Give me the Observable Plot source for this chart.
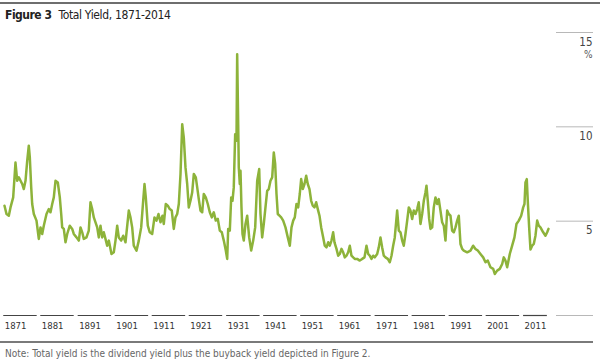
<!DOCTYPE html>
<html><head><meta charset="utf-8">
<script src="https://cdn.jsdelivr.net/npm/d3@7"></script>
<script src="https://cdn.jsdelivr.net/npm/@observablehq/plot@0.6"></script>
<style>
body{margin:0;width:600px;height:362px;position:relative;background:#fff;overflow:hidden;font-family:"Liberation Sans Narrow","DejaVu Sans Condensed","Roboto Condensed","Arial Narrow",sans-serif;font-stretch:condensed;}
#rule{position:absolute;left:0;top:2px;width:600px;height:2px;background:#6e6e6e;}
#title{position:absolute;left:5px;top:8px;font-size:12px;line-height:14px;color:#222;white-space:nowrap;letter-spacing:-0.35px;}
#title b{font-weight:bold;margin-right:4px;letter-spacing:-0.5px;}
#chart{position:absolute;left:0;top:24px;}
#sep{position:absolute;left:0;top:341px;width:593px;height:2px;background:#7a7a7a;}
#note{position:absolute;left:5px;top:348px;font-size:10px;line-height:12px;color:#666;white-space:nowrap;}
</style></head>
<body>
<div id="rule"></div>
<div id="title"><b>Figure 3</b> Total Yield, 1871-2014</div>
<div id="chart"></div>
<div id="sep"></div>
<div id="note">Note: Total yield is the dividend yield plus the buyback yield depicted in Figure 2.</div>
<script>
// Total yield (%) by year: [year, value]
const totalYield = [
[1871.00,5.82],[1871.53,5.38],[1872.14,5.29],[1872.59,5.73],[1873.30,6.26],[1873.91,8.11],[1874.36,7.14],[1874.79,7.32],[1875.69,6.97],[1876.11,6.70],[1876.56,7.14],[1877.01,8.20],[1877.43,9.00],[1877.70,8.38],[1878.07,6.79],[1878.33,5.91],[1878.76,5.38],[1879.47,5.03],[1880.08,4.06],[1880.53,4.67],[1880.98,4.32],[1881.40,4.76],[1882.12,5.38],[1882.73,5.64],[1883.18,5.47],[1883.63,5.91],[1884.05,6.26],[1884.50,7.14],[1885.11,7.05],[1885.64,6.26],[1886.01,5.38],[1886.27,4.67],[1886.70,4.59],[1887.15,3.88],[1887.60,4.32],[1888.28,4.76],[1888.92,4.59],[1889.34,4.32],[1890.06,4.14],[1890.67,3.97],[1891.12,4.67],[1891.57,4.41],[1891.99,4.06],[1892.70,4.14],[1893.31,4.50],[1893.76,6.00],[1894.21,5.64],[1894.64,5.20],[1895.09,4.94],[1895.54,4.67],[1895.96,4.14],[1896.41,4.76],[1896.86,4.14],[1897.28,4.41],[1897.73,4.06],[1898.18,3.70],[1898.61,3.97],[1899.32,3.26],[1899.93,3.35],[1900.38,3.97],[1900.83,4.76],[1901.25,4.14],[1901.89,3.97],[1902.42,4.23],[1903.03,3.88],[1903.90,5.56],
[1904.35,5.20],[1904.80,4.67],[1905.22,3.70],[1905.94,3.44],[1906.55,3.97],[1907.18,4.67],[1907.71,6.08],[1908.06,6.97],[1908.40,6.26],[1908.93,4.76],[1909.46,4.41],[1910.09,4.32],[1910.70,5.20],[1911.23,5.03],[1911.76,5.38],[1912.29,4.94],[1912.82,5.29],[1913.17,4.85],[1913.69,5.91],[1914.22,5.82],[1914.75,5.64],[1915.28,5.56],[1915.81,4.59],[1916.26,5.20],[1916.71,5.38],[1917.14,5.91],[1917.59,7.50],[1918.04,10.14],[1918.46,9.43],[1918.91,7.85],[1919.36,6.97],[1919.78,5.73],[1920.23,6.08],[1920.68,6.52],[1921.11,7.50],[1921.64,7.32],[1922.01,6.79],[1922.43,6.17],[1922.88,5.56],[1923.33,5.47],[1923.75,6.44],[1924.28,6.26],[1924.81,5.91],[1925.34,5.47],[1925.87,5.20],[1926.40,5.47],[1926.93,5.03],[1927.46,5.12],[1927.99,4.50],[1928.52,4.41],[1929.05,3.97],[1929.58,3.44],[1929.95,3.00],[1930.21,4.59],[1930.64,4.50],[1931.01,6.26],[1931.35,6.08],[1931.69,6.79],[1932.06,9.61],[1932.41,9.26],[1932.59,13.85],[1932.86,10.14],[1933.02,7.85],[1933.28,6.97],[1933.47,7.67],[1933.73,5.73],[1934.00,4.32],[1934.34,3.97],[1934.79,4.85],[1935.24,5.29],[1935.77,4.14],[1936.30,3.44],[1936.83,3.97],[1937.36,4.67],[1937.89,7.14],[1938.42,7.76],
[1938.76,5.38],[1939.21,4.14],[1939.63,4.85],[1940.08,5.73],[1940.53,6.61],[1940.96,6.70],[1941.41,7.14],[1941.86,7.32],[1942.28,8.64],[1942.65,8.03],[1943.00,6.44],[1943.34,5.38],[1943.79,5.29],[1944.24,5.20],[1944.77,5.03],[1945.38,4.67],[1945.99,4.14],[1946.52,3.70],[1946.97,4.67],[1947.42,5.03],[1947.84,5.20],[1948.29,5.91],[1948.74,5.73],[1949.16,6.44],[1949.53,7.23],[1949.96,6.70],[1950.41,6.97],[1950.86,7.41],[1951.28,6.97],[1951.73,6.70],[1952.18,6.08],[1952.60,5.82],[1953.05,5.73],[1953.50,6.00],[1953.93,5.64],[1954.38,5.29],[1954.83,4.67],[1955.36,4.14],[1955.78,3.70],[1956.23,3.61],[1956.68,3.88],[1957.10,3.70],[1957.55,3.97],[1958.00,4.41],[1958.35,3.88],[1958.88,3.53],[1959.33,3.17],[1959.75,3.26],[1960.20,3.53],[1960.65,3.35],[1961.07,3.08],[1961.52,3.17],[1961.97,3.35],[1962.40,3.70],[1962.85,3.17],[1963.30,3.08],[1963.72,3.00],[1964.36,3.00],[1965.04,2.91],[1965.68,3.00],[1966.29,3.08],[1966.82,3.70],[1967.27,3.26],[1967.69,3.17],[1968.14,3.00],[1968.59,3.17],[1969.02,3.08],[1969.65,3.26],[1970.07,3.61],[1970.52,4.14],[1970.97,3.61],[1971.40,3.17],[1971.85,3.08],[1972.46,3.00],[1972.99,2.82],[1973.44,3.17],[1973.88,3.70],[1974.31,4.14],[1974.94,5.56],[1975.37,4.50],
[1975.82,4.41],[1976.27,3.97],[1976.69,3.70],[1977.14,4.32],[1977.59,5.03],[1978.02,5.73],[1978.46,5.56],[1978.91,5.12],[1979.34,5.56],[1979.79,5.38],[1980.24,5.64],[1980.66,6.00],[1981.11,4.85],[1981.56,5.38],[1981.99,6.08],[1982.43,6.52],[1982.70,6.88],[1983.05,6.08],[1983.41,5.12],[1983.76,4.59],[1984.21,4.67],[1984.63,5.73],[1985.08,6.26],[1985.53,5.91],[1985.95,6.17],[1986.40,5.56],[1986.85,4.94],[1987.28,4.76],[1987.73,3.97],[1988.18,5.56],[1988.60,5.38],[1989.05,5.29],[1989.50,4.50],[1989.93,4.41],[1990.38,4.67],[1990.82,5.03],[1991.25,5.29],[1991.70,3.79],[1992.15,3.53],[1992.57,3.44],[1993.47,3.35],[1994.35,3.44],[1995.06,3.70],[1995.67,3.53],[1996.28,3.44],[1996.99,3.26],[1997.71,3.08],[1998.32,2.82],[1998.93,2.91],[1999.64,2.56],[2000.36,2.47],[2000.78,2.20],[2001.41,2.38],[2002.10,2.47],[2002.74,2.73],[2003.16,3.08],[2003.61,2.91],[2004.06,2.56],[2004.75,3.26],[2005.38,3.70],[2005.99,4.14],[2006.52,4.85],[2007.13,5.03],[2007.77,5.29],[2008.30,5.73],[2008.64,5.91],[2008.90,7.05],[2009.25,7.23],[2009.51,6.08],[2009.88,4.67],[2010.23,3.50],[2010.68,3.70],[2011.10,3.79],[2011.55,4.23],[2012.00,5.03],[2012.42,4.76],[2012.87,4.67],[2013.59,4.41],[2014.20,4.23],[2014.65,4.41],[2015.00,4.59]
];

// x-axis decade labels and where the original places them (in years)
const decadeLabels = ["1871","1881","1891","1901","1911","1921","1931","1941","1951","1961","1971","1981","1991","2001","2011"];
const decadeStarts = [1870.8,1880.6,1890.5,1900.3,1910.1,1919.9,1929.8,1939.6,1949.4,1959.2,1969.1,1978.9,1988.7,1998.5,2008.4];

// y-axis
const yGridValues = [0, 5, 10, 15];
const yLabelValues = [5, 10, 15];
const yLabels = ["5", "10", "15"];
const yUnit = "%";

const lastYear = totalYield[totalYield.length - 1][0];
const decades = decadeLabels.map((label, i) => ({label, start: decadeStarts[i]}));
const fontStack = '"Liberation Sans Narrow","DejaVu Sans Condensed","Roboto Condensed","Arial Narrow",sans-serif';

const chart = Plot.plot({
  width: 600,
  height: 308,
  marginLeft: 4,
  marginRight: 52,
  marginTop: 8,
  marginBottom: 17,
  x: {domain: [1871, 2015], axis: null},
  y: {domain: [0, 15], axis: null},
  style: {overflow: "visible", fontFamily: fontStack, background: "transparent"},
  marks: [
    Plot.ruleY(yGridValues, {y: d => d, insetLeft: 552, insetRight: -45, stroke: "#b8b8b8", strokeWidth: 1}),
    Plot.text(yLabelValues, {y: d => d, text: (d, i) => yLabels[i], frameAnchor: "right", textAnchor: "end", dx: 44, dy: 9.5, fontSize: 11.5, fill: "#444"}),
    Plot.text([yUnit], {y: () => 15, text: d => d, frameAnchor: "right", textAnchor: "end", dx: 44, dy: 22.5, fontSize: 10, fill: "#555"}),
    Plot.ruleY(decades, {y: () => 0, x1: d => d.start, x2: d => Math.min(d.start + 8.85, lastYear - 0.3), stroke: "#444", strokeWidth: 1.2}),
    Plot.text(decades, {x: d => d.start, y: () => 0, text: d => d.label, textAnchor: "start", dx: 1, dy: 10, fontSize: 9.5, fill: "#333", style: "letter-spacing:-0.3px"}),
    Plot.line(totalYield, {x: d => d[0], y: d => d[1], stroke: "#8db33a", strokeWidth: 2.5, strokeLinejoin: "round"})
  ]
});
document.getElementById("chart").appendChild(chart);
</script>
</body></html>
